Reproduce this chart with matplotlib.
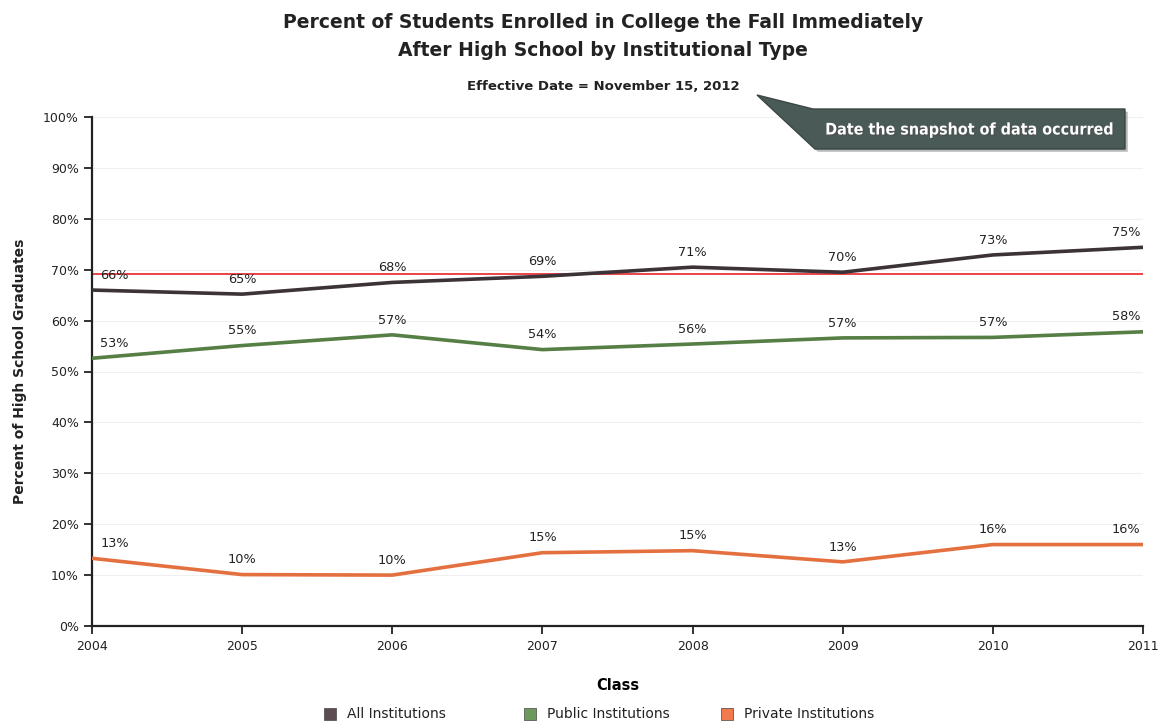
import matplotlib
matplotlib.use('Agg')
import matplotlib.pyplot as plt
from matplotlib.patches import Polygon
import matplotlib.patheffects as pe

plt.rcParams['font.family'] = ['DejaVu Sans']

# data
years = [2004, 2005, 2006, 2007, 2008, 2009, 2010, 2011]
all_inst = [66.0, 65.2, 67.5, 68.7, 70.5, 69.5, 72.9, 74.4]
public_inst = [52.6, 55.1, 57.2, 54.3, 55.4, 56.6, 56.7, 57.8]
private_inst = [13.3, 10.1, 10.0, 14.4, 14.8, 12.6, 16.0, 16.0]
all_labels = [66, 65, 68, 69, 71, 70, 73, 75]
public_labels = [53, 55, 57, 54, 56, 57, 57, 58]
private_labels = [13, 10, 10, 15, 15, 13, 16, 16]
ref_line = 69.2
yticks = list(range(0, 101, 10))

W, H = 1161, 723
fig = plt.figure(figsize=(W / 100, H / 100), dpi=100)
ax = fig.add_axes([92 / W, 1 - 626 / H, (1143 - 92) / W, (626 - 117) / H])

series = [
    ("All Institutions", all_inst, all_labels, "#3b3337", "#5b4d52"),
    ("Public Institutions", public_inst, public_labels, "#557f45", "#6d9a5c"),
    ("Private Institutions", private_inst, private_labels, "#e5703f", "#f07a4e"),
]

ax.axhline(ref_line, color="#e8353a", lw=1.3, zorder=2)

for name, vals, labs, col, _ in series:
    ax.plot(years, vals, color=col, lw=2.6, solid_capstyle="round", zorder=3)
    for i, (x, v, l) in enumerate(zip(years, vals, labs)):
        ha = "center"
        dx = 0
        if i == 0:
            ha, dx = "left", 6
        elif i == len(years) - 1:
            ha, dx = "right", -2
        ax.annotate(f"{l}%", (x, v), xytext=(dx, 6), textcoords="offset points",
                    ha=ha, va="bottom", fontsize=9.3, color="#222222", zorder=4)

ax.set_xlim(2004, 2011)
ax.set_ylim(0, 100)
ax.set_xticks(years)
ax.set_yticks(yticks)
ax.set_yticklabels([f"{t}%" for t in yticks])
ax.tick_params(axis="both", direction="out", length=6, width=1.3, labelsize=9, colors="#222222")
ax.tick_params(axis="x", pad=4)
for s in ["top", "right"]:
    ax.spines[s].set_visible(False)
for s in ["left", "bottom"]:
    ax.spines[s].set_linewidth(1.6)
    ax.spines[s].set_color("#222222")
ax.grid(axis="y", color="#f0f0f0", lw=0.8)
ax.set_axisbelow(True)

ax.set_xlabel("Class", fontsize=10.5, fontweight="bold", labelpad=18)
fig.text(20 / W, 1 - 371 / H, "Percent of High School Graduates", rotation=90,
         ha="center", va="center", fontsize=10, fontweight="bold", color="#222222")

fig.text(603 / W, 1 - 36 / H,
         "Percent of Students Enrolled in College the Fall Immediately\nAfter High School by Institutional Type",
         ha="center", va="center", fontsize=13.5, fontweight="bold", color="#222222", linespacing=1.6)
fig.text(603 / W, 1 - 86 / H, "Effective Date = November 15, 2012",
         ha="center", va="center", fontsize=9.5, fontweight="bold", color="#222222")

# callout
pts = [(757, 95), (813, 109), (1125, 109), (1125, 149), (815, 149)]
poly = Polygon([(x / W, 1 - y / H) for x, y in pts], closed=True, transform=fig.transFigure,
               facecolor="#4a5a57", edgecolor="#3a4644", lw=1,
               path_effects=[pe.SimplePatchShadow(offset=(2, -2), alpha=0.3), pe.Normal()])
fig.patches.append(poly)
fig.text(970 / W, 1 - 130 / H, "Date the snapshot of data occurred", ha="center", va="center",
         fontsize=11.5, fontweight="bold", fontstretch="condensed", color="white",
         family=["DejaVu Sans"],
         path_effects=[pe.withSimplePatchShadow(offset=(1, -1), alpha=0.6)])

# legend
leg_x = [330, 530, 727]
for (name, _, _, _, lc), lx in zip(series, leg_x):
    fig.patches.append(plt.Rectangle(((lx - 6) / W, 1 - 720 / H), 12 / W, 12 / H,
                                     transform=fig.transFigure, facecolor=lc, edgecolor="#444444", lw=0.5))
    fig.text((lx + 17) / W, 1 - 714 / H, name, ha="left", va="center", fontsize=10, color="#222222")

fig.savefig("out.png", dpi=100)
